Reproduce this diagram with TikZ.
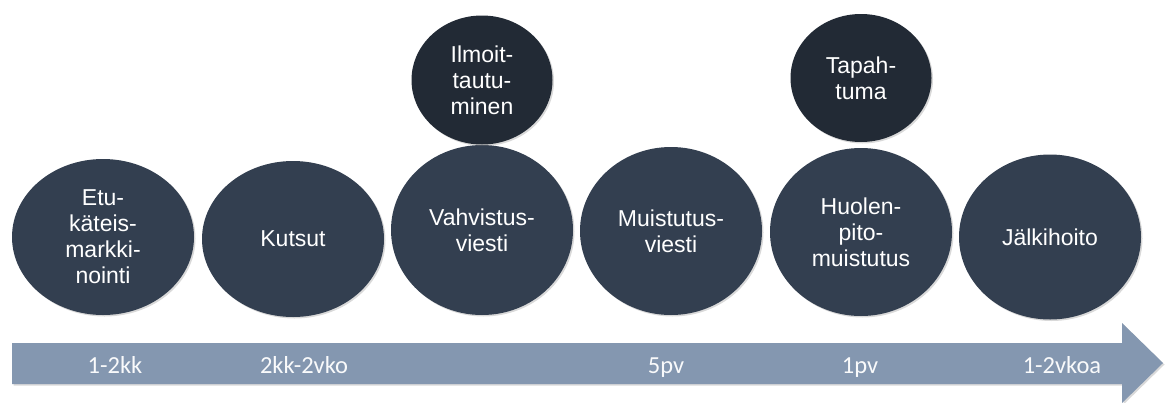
\documentclass[tikz,border=0pt]{standalone}
\usepackage{fontspec}
\setmainfont{Liberation Sans}
\newfontfamily\spanfont{Carlito}
\usepackage{xcolor}
\usepackage{tikz}
\usetikzlibrary{shapes.geometric,shadows}

\definecolor{phasecol}{HTML}{333F50}
\definecolor{eventcol}{HTML}{222A35}
\definecolor{arrowcol}{HTML}{8497B0}

\begin{document}
\begin{tikzpicture}[x=1pt, y=-1pt,
		phase/.style = {ellipse, fill=phasecol, inner sep=0pt, minimum width=182pt, minimum height=#1,
			text=white, align=center, font=\fontsize{23}{26}\selectfont,
			drop shadow={shadow xshift=1.5pt, shadow yshift=-1.5pt, opacity=.3}},
		phase/.default = {168pt},
		event/.style = {phase, fill=eventcol, minimum width=141pt, minimum height=#1},
		event/.default = {128pt},
		span/.style = {anchor=base, text=white!95!arrowcol, font=\spanfont\fontsize{24.5}{26}\selectfont}]
		\useasboundingbox (0,0) rectangle (1173,402);
		
		% time arrow
		\begin{scope}
			\path[shape=coordinate]
			(12,343) coordinate(A)
			(1122,343) coordinate(B)
			(1122,323) coordinate(C)
			(1163,363) coordinate(D)
			(1122,403) coordinate(E)
			(1122,384) coordinate(F)
			(12,384) coordinate(G);
			
			\fill[arrowcol, drop shadow={shadow xshift=1.5pt, shadow yshift=-1.5pt, opacity=.3}]
			(A) -- (B) -- (C) -- (D) -- (E) -- (F) -- (G) -- cycle;
			
			\node[span] (t1) at (115,373) {1-2kk};
			\node[span] (t2) at (304,373) {2kk-2vko};
			\node[span] (t3) at (666,373) {5pv};
			\node[span] (t4) at (860,373) {1pv};
			\node[span] (t5) at (1062,373) {1-2vkoa};
		\end{scope}
		
		% phases
		\node[phase=156pt] (etu) at (103,237) {Etu-\\käteis-\\markki-\\nointi};
		\node[phase=156pt] (kutsut) at (293,239) {Kutsut};
		\node[phase=170pt] (vahvistus) at (482,230) {Vahvistus-\\viesti};
		\node[phase] (muistutus) at (671,231) {Muistutus-\\viesti};
		\node[phase] (huolenpito) at (861,232) {Huolen-\\pito-\\muistutus};
		\node[phase=165pt] (jalkihoito) at (1050,237) {Jälkihoito};
		
		% events on top
		\node[event=129pt] (ilmoit) at (482,80) {Ilmoit-\\tautu-\\minen};
		\node[event] (tapahtuma) at (861,78) {Tapah-\\tuma};
	\end{tikzpicture}
\end{document}
